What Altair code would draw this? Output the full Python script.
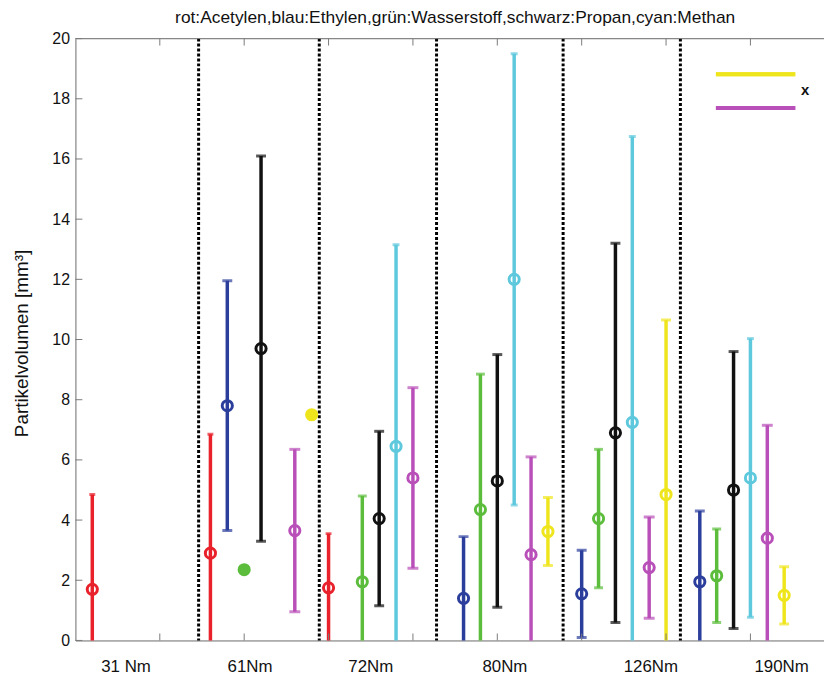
import altair as alt
import pandas as pd

# ---------------- data ----------------
groups = ["31 Nm", "61Nm", "72Nm", "80Nm", "126Nm", "190Nm"]
group_x = [0.2, 1.6, 3.0, 4.4, 5.8, 7.2]          # x of first (red) slot in each group
label_x = [0.60, 2.07, 3.50, 5.09, 6.82, 8.37]    # x of group label text
separators = [1.46, 2.89, 4.28, 5.78, 7.17]       # dotted group separators
x_ticks = [1, 2, 3, 4, 5, 6, 7, 8]
y_ticks = list(range(0, 21, 2))
slot = 0.2

series = ["Acetylen", "Ethylen", "Wasserstoff", "Propan", "Methan", "Magenta", "Gelb"]
colors = ["#e8212b", "#2c3e9c", "#5cbd3c", "#111111", "#5ec8dd", "#b94fb8", "#efe51c"]
cap_px = [6, 10, 9, 10, 7, 11, 10]

N = None
acetylen_mean = [1.7, 2.9, 1.75, N, N, N]
acetylen_err = [3.15, 3.95, 1.8, N, N, N]
ethylen_mean = [N, 7.8, N, 1.4, 1.55, 1.95]
ethylen_err = [N, 4.15, N, 2.05, 1.45, 2.35]
wasserstoff_mean = [N, 2.35, 1.95, 4.35, 4.05, 2.15]
wasserstoff_err = [N, 0.0, 2.85, 4.5, 2.3, 1.55]
propan_mean = [N, 9.7, 4.05, 5.3, 6.9, 5.0]
propan_err = [N, 6.4, 2.9, 4.2, 6.3, 4.6]
methan_mean = [N, N, 6.45, 12.0, 7.25, 5.4]
methan_err = [N, N, 6.7, 7.5, 9.5, 4.63]
magenta_mean = [N, 3.65, 5.4, 2.85, 2.42, 3.4]
magenta_err = [N, 2.7, 3.0, 3.25, 1.68, 3.75]
gelb_mean = [N, 7.5, N, 3.62, 4.85, 1.5]
gelb_err = [N, 0.0, N, 1.13, 5.8, 0.95]

means = [acetylen_mean, ethylen_mean, wasserstoff_mean, propan_mean,
         methan_mean, magenta_mean, gelb_mean]
errs = [acetylen_err, ethylen_err, wasserstoff_err, propan_err,
        methan_err, magenta_err, gelb_err]

rows = []
for si, name in enumerate(series):
    for gi in range(len(groups)):
        m = means[si][gi]
        e = errs[si][gi]
        if m is None:
            continue
        rows.append({"x": group_x[gi] + slot * si, "mean": m, "lo": m - e,
                     "hi": m + e, "series": name, "cap": cap_px[si]})
df = pd.DataFrame(rows)

# ---------------- layout ----------------
W, H = 755, 607
FONT = "Liberation Sans"
GRAY = "#7a7a7a"
xs = alt.Scale(domain=[0, W / 85.1], nice=False, zero=False)
ys = alt.Scale(domain=[0, 20], nice=False)
xaxis = alt.Axis(title=None, labels=False, ticks=False, grid=False,
                 domainColor=GRAY, domainWidth=1)
yaxis = alt.Axis(title="Partikelvolumen [mm³]", values=y_ticks, ticks=False,
                 grid=False, domainColor=GRAY, domainWidth=1,
                 labelFontSize=16, labelPadding=6, labelColor="#111111",
                 labelFont=FONT, titleFont=FONT, titleFontSize=19,
                 titleFontWeight="normal", titleColor="#111111",
                 titleAngle=270, titleX=-54, titleY=307,
                 titleAlign="center", titleBaseline="middle")
col = alt.Color("series:N", scale=alt.Scale(domain=series, range=colors), legend=None)


def X(f):
    return alt.X(f, type="quantitative", scale=xs, axis=xaxis)


def Y(f):
    return alt.Y(f, type="quantitative", scale=ys, axis=yaxis)


base = alt.Chart(df)

bars = base.mark_rule(strokeWidth=3.5, clip=True).encode(
    x=X("x"), y=Y("lo"), y2="hi", color=col)
caps_hi = base.mark_tick(orient="horizontal", thickness=3, clip=True).encode(
    x=X("x"), y=Y("hi"), color=col, size=alt.Size("cap:Q", scale=None))
caps_lo = base.transform_filter("datum.lo >= 0").mark_tick(
    orient="horizontal", thickness=3, clip=True).encode(
    x=X("x"), y=Y("lo"), color=col, size=alt.Size("cap:Q", scale=None))
dots = base.mark_point(shape="circle", size=105, strokeWidth=3,
                       opacity=1).encode(
    x=X("x"), y=Y("mean"), color=col,
    fill=alt.condition("datum.hi == datum.lo", col, alt.value("transparent")))

sep = alt.Chart(pd.DataFrame({"s": separators})).mark_rule(
    color="black", strokeWidth=3, strokeDash=[3, 2]).encode(x=X("s"))

xt = pd.DataFrame({"t": x_ticks})
ticks_bottom = alt.Chart(xt).mark_rule(color=GRAY, strokeWidth=1).encode(
    x=X("t"), y=alt.value(H), y2=alt.value(H - 7))
ticks_top = alt.Chart(xt).mark_rule(color=GRAY, strokeWidth=1).encode(
    x=X("t"), y=alt.value(0), y2=alt.value(7))
ticks_left = alt.Chart(pd.DataFrame({"v": y_ticks})).mark_rule(
    color=GRAY, strokeWidth=1).encode(
    y=Y("v"), x=alt.value(0), x2=alt.value(7))
top_line = alt.Chart(pd.DataFrame({"a": [0]})).mark_rule(
    color=GRAY, strokeWidth=1).encode(
    x=alt.value(0), x2=alt.value(W), y=alt.value(0))

labels = alt.Chart(pd.DataFrame({"lx": label_x, "g": groups})).mark_text(
    fontSize=17, font=FONT, color="#111111", baseline="alphabetic").encode(
    x=X("lx"), y=alt.value(H + 32), text="g:N")

leg_df = pd.DataFrame({"k": ["Gelb", "Magenta"]})
leg_yellow = alt.Chart(leg_df).mark_rule(color="#efe51c", strokeWidth=4).encode(
    x=alt.value(646), x2=alt.value(726), y=alt.value(36))
leg_magenta = alt.Chart(leg_df).mark_rule(color="#b94fb8", strokeWidth=4).encode(
    x=alt.value(646), x2=alt.value(726), y=alt.value(70))
leg_text = alt.Chart(pd.DataFrame({"t": ["x"]})).mark_text(
    fontSize=15, font=FONT, fontWeight="bold", color="#111111").encode(
    x=alt.value(736), y=alt.value(52), text="t:N")

chart = alt.layer(
    sep, bars, caps_hi, caps_lo, dots, ticks_bottom, ticks_top, ticks_left,
    top_line, labels, leg_yellow, leg_magenta, leg_text
).properties(
    width=W, height=H,
    title=alt.TitleParams(
        "rot:Acetylen,blau:Ethylen,grün:Wasserstoff,schwarz:Propan,cyan:Methan",
        fontSize=17.5, font=FONT, fontWeight="normal", color="#111111",
        anchor="middle", dx=5.5, offset=4),
    autosize=alt.AutoSizeParams(type="none"),
    padding={"left": 68, "top": 28, "right": 0, "bottom": 34},
).configure_view(strokeWidth=0).configure(background="white")

chart.save("out.html", embed_options={"renderer": "svg", "actions": False})
